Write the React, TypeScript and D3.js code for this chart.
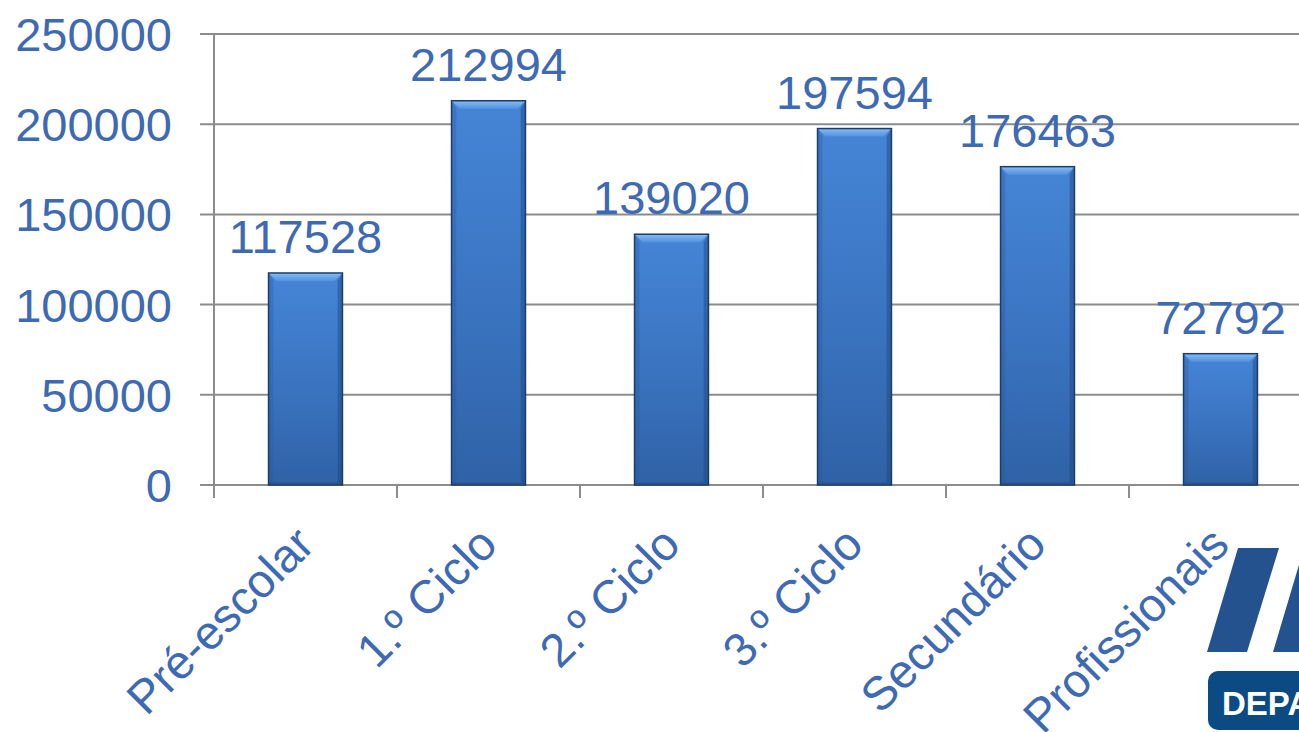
import React from "react";
import * as d3 from "d3";

const categories = ["Pré-escolar", "1.º Ciclo", "2.º Ciclo", "3.º Ciclo", "Secundário", "Profissionais"];
const values = [117528, 212994, 139020, 197594, 176463, 72792];
const yTicks = [0, 50000, 100000, 150000, 200000, 250000];

const W = 1299;
const H = 732;
const TEXT = "#3e6ab3";
const GRID = "#8c8c8c";
const FONT = "'Liberation Sans', Arial, sans-serif";

export default function App() {
  const left = 214;
  const step = 183;
  const x = d3
    .scaleBand<string>()
    .domain(categories)
    .range([left, left + step * categories.length])
    .paddingInner(0.596)
    .paddingOuter(0.298);
  const y = d3.scaleLinear().domain([0, 250000]).range([485, 34]);
  const bw = x.bandwidth();
  const b = 8;

  return (
    <svg
      width={W}
      height={H}
      style={{ position: "absolute", left: 0, top: 0, display: "block", background: "#fff" }}
      fontFamily={FONT}
    >
      <defs>
        <linearGradient id="barFill" x1="0" y1="0" x2="0" y2="1">
          <stop offset="0" stopColor="#4585d6" />
          <stop offset="0.5" stopColor="#3b75c2" />
          <stop offset="1" stopColor="#2f62a6" />
        </linearGradient>
        <linearGradient id="topBevel" x1="0" y1="0" x2="0" y2="1">
          <stop offset="0" stopColor="#86bcf5" />
          <stop offset="1" stopColor="#5293de" />
        </linearGradient>
      </defs>

      {/* gridlines */}
      {yTicks.map((t) => (
        <line key={"g" + t} x1={200} x2={W} y1={y(t)} y2={y(t)} stroke={GRID} strokeWidth={2} />
      ))}
      {/* y axis line */}
      <line x1={left} x2={left} y1={y(250000)} y2={y(0)} stroke={GRID} strokeWidth={2} />
      {/* x ticks */}
      {d3.range(categories.length + 1).map((i) => (
        <line
          key={"xt" + i}
          x1={left + i * step}
          x2={left + i * step}
          y1={y(0)}
          y2={y(0) + 13}
          stroke={GRID}
          strokeWidth={2}
        />
      ))}

      {/* y tick labels */}
      {yTicks.map((t) => (
        <text
          key={"yl" + t}
          x={172}
          y={y(t)}
          dy="0.36em"
          textAnchor="end"
          fontSize={47}
          fill={TEXT}
        >
          {t}
        </text>
      ))}

      {/* bars */}
      {categories.map((c, i) => {
        const x0 = x(c)!;
        const x1 = x0 + bw;
        const y0 = y(values[i]);
        const y1 = y(0);
        return (
          <g key={"b" + c}>
            <rect x={x0} y={y0} width={bw} height={y1 - y0} fill="url(#barFill)" />
            <polygon
              points={`${x0},${y0} ${x1},${y0} ${x1 - b},${y0 + b} ${x0 + b},${y0 + b}`}
              fill="url(#topBevel)"
            />
            <polygon
              points={`${x0},${y0} ${x0 + b * 0.6},${y0 + b} ${x0 + b * 0.6},${y1 - 3} ${x0},${y1}`}
              fill="#2a5a9a"
              opacity={0.35}
            />
            <polygon
              points={`${x1},${y0} ${x1 - b * 0.6},${y0 + b} ${x1 - b * 0.6},${y1 - 3} ${x1},${y1}`}
              fill="#1d4479"
              opacity={0.45}
            />
            <rect x={x0} y={y1 - 3} width={bw} height={3} fill="#24518c" opacity={0.6} />
            <rect
              x={x0}
              y={y0}
              width={bw}
              height={y1 - y0}
              fill="none"
              stroke="#1b3d6b"
              strokeWidth={1.5}
            />
          </g>
        );
      })}

      {/* value labels */}
      {categories.map((c, i) => (
        <text
          key={"v" + c}
          x={x(c)! + bw / 2}
          y={y(values[i]) - 20}
          textAnchor="middle"
          fontSize={47}
          fill={TEXT}
        >
          {values[i]}
        </text>
      ))}

      {/* category labels */}
      {categories.map((c) => {
        const ax = x(c)! + bw / 2 + 11;
        const ay = 547;
        return (
          <text
            key={"c" + c}
            transform={`translate(${ax},${ay}) rotate(-45)`}
            textAnchor="end"
            fontSize={47}
            fill={TEXT}
          >
            {c}
          </text>
        );
      })}

      {/* logo */}
      <polygon points="1238,548 1279,548 1247,652 1207,652" fill="#24528f" />
      <polygon points="1304,548 1345,548 1313,652 1273,652" fill="#24528f" />
      <rect x={1208} y={671} width={160} height={59} rx={10} fill="#0b4a82" />
      <text x={1222} y={715} fontSize={33} fontWeight="bold" fill="#fff">
        DEPARTAMENTO
      </text>
    </svg>
  );
}
